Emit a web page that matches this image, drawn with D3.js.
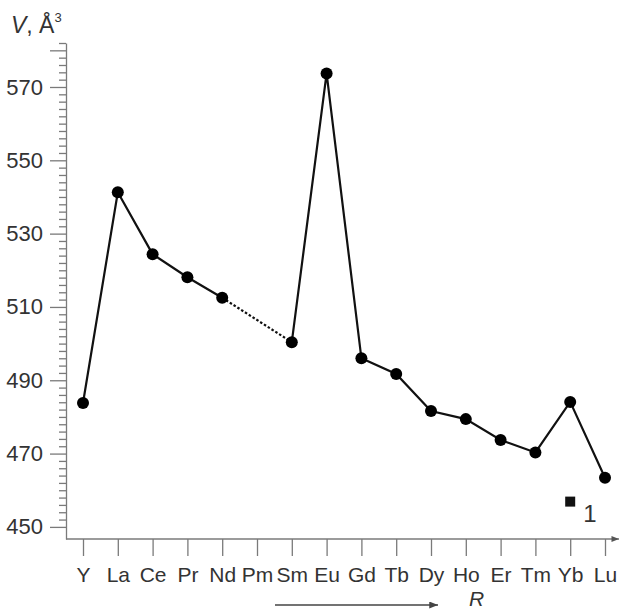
<!DOCTYPE html>
<html>
<head>
<meta charset="utf-8">
<script src="https://cdn.jsdelivr.net/npm/d3@7"></script>
<style>
    body { margin: 0; background: #fff; }
    svg { display: block; font-family: "Liberation Sans", Arial, sans-serif; }
</style>
</head>
<body>
<div id="chart"></div>
<script>
// Rare earth elements along the x axis, cell volume V (Å^3) for each
var elements = ["Y", "La", "Ce", "Pr", "Nd", "Pm", "Sm", "Eu", "Gd", "Tb", "Dy", "Ho", "Er", "Tm", "Yb", "Lu"];
var volumes = [483.8, 541.3, 524.4, 518.1, 512.5, null, 500.4, 573.7, 496.0, 491.7, 481.6, 479.4, 473.7, 470.3, 484.1, 463.4];

// Separate compound "1" (square marker)
var compoundElements = ["Yb"];
var compoundVolumes = [456.9];

// Y tick labels
var majorTicks = [450, 470, 490, 510, 530, 550, 570, 580];
var labelledTicks = [450, 470, 490, 510, 530, 550, 570];

var width = 620, height = 612;

var svg = d3.select("#chart").append("svg")
    .attr("width", width)
    .attr("height", height);

var axisColor = "#7a7a7a";
var textColor = "#333";

// Scales
var x = d3.scalePoint()
    .domain(elements)
    .range([83, 605]);

var y = d3.scaleLinear()
    .domain([446.7, 582])
    .range([539, 43]);

var axisX = 66;

// Y axis: minor ticks every 2 units
var minorTicks = d3.range(452, 583, 2).filter(function(v) { return majorTicks.indexOf(v) < 0; });

var yMinor = d3.axisLeft(y)
    .tickValues(minorTicks)
    .tickSize(7)
    .tickSizeOuter(0)
    .tickFormat("");

var yMajor = d3.axisLeft(y)
    .tickValues(majorTicks)
    .tickSize(16)
    .tickSizeOuter(0)
    .tickPadding(7)
    .tickFormat(function(d) { return labelledTicks.indexOf(d) >= 0 ? d : ""; });

var gyMinor = svg.append("g")
    .attr("transform", "translate(" + axisX + ",0)")
    .call(yMinor);

var gyMajor = svg.append("g")
    .attr("transform", "translate(" + axisX + ",0)")
    .call(yMajor);

[gyMinor, gyMajor].forEach(function(g) {
    g.selectAll("path, line").attr("stroke", axisColor).attr("stroke-width", 1.3);
    g.selectAll("text")
        .attr("fill", textColor)
        .style("font-size", "22px")
        .style("font-family", "Liberation Sans, Arial, sans-serif");
});
gyMinor.select(".domain").remove();

// X axis
var xAxis = d3.axisBottom(x)
    .tickSize(17)
    .tickSizeOuter(0)
    .tickPadding(11);

var gx = svg.append("g")
    .attr("transform", "translate(0," + y.range()[0] + ")")
    .call(xAxis);

gx.select(".domain").remove();
gx.selectAll("line").attr("stroke", axisColor).attr("stroke-width", 1.3);
gx.selectAll("text")
    .attr("fill", textColor)
    .style("font-size", "21px")
    .style("font-family", "Liberation Sans, Arial, sans-serif");

// Arrow markers
var defs = svg.append("defs");
defs.append("marker")
    .attr("id", "arrowGrey")
    .attr("viewBox", "0 0 10 8")
    .attr("refX", 10).attr("refY", 4)
    .attr("markerWidth", 8).attr("markerHeight", 6)
    .attr("markerUnits", "userSpaceOnUse")
    .attr("orient", "auto")
    .append("path").attr("d", "M0,0 L10,4 L0,8 Z").attr("fill", "#555");

defs.append("marker")
    .attr("id", "arrowDark")
    .attr("viewBox", "0 0 10 8")
    .attr("refX", 10).attr("refY", 4)
    .attr("markerWidth", 9).attr("markerHeight", 7)
    .attr("markerUnits", "userSpaceOnUse")
    .attr("orient", "auto")
    .append("path").attr("d", "M0,0 L10,4 L0,8 Z").attr("fill", "#444");

// X axis line with arrow
svg.append("line")
    .attr("x1", axisX).attr("x2", 619)
    .attr("y1", y.range()[0]).attr("y2", y.range()[0])
    .attr("stroke", axisColor)
    .attr("stroke-width", 1.3)
    .attr("marker-end", "url(#arrowGrey)");

// Series points
var points = elements.map(function(e, i) { return {el: e, v: volumes[i]}; });

// Solid line for consecutive measured values
var line = d3.line()
    .defined(function(d) { return d.v !== null; })
    .x(function(d) { return x(d.el); })
    .y(function(d) { return y(d.v); });

svg.append("path")
    .datum(points)
    .attr("d", line)
    .attr("fill", "none")
    .attr("stroke", "#111")
    .attr("stroke-width", 2.2);

// Dotted line across missing values
var known = points.filter(function(d) { return d.v !== null; });
var gaps = [];
for (var i = 1; i < known.length; i++) {
    var a = elements.indexOf(known[i - 1].el), b = elements.indexOf(known[i].el);
    if (b - a > 1) gaps.push([known[i - 1], known[i]]);
}
svg.selectAll("path.gap")
    .data(gaps)
    .enter()
    .append("path")
    .classed("gap", true)
    .attr("d", d3.line().x(function(d) { return x(d.el); }).y(function(d) { return y(d.v); }))
    .attr("fill", "none")
    .attr("stroke", "#111")
    .attr("stroke-width", 2.2)
    .attr("stroke-dasharray", "2.5,2");

svg.selectAll("circle.pt")
    .data(known)
    .enter()
    .append("circle")
    .classed("pt", true)
    .attr("cx", function(d) { return x(d.el); })
    .attr("cy", function(d) { return y(d.v); })
    .attr("r", 6)
    .attr("fill", "#000");

// Compound 1 (square)
var sq = 10;
svg.selectAll("rect.c1")
    .data(compoundElements.map(function(e, i) { return {el: e, v: compoundVolumes[i]}; }))
    .enter()
    .append("rect")
    .classed("c1", true)
    .attr("x", function(d) { return x(d.el) - sq / 2; })
    .attr("y", function(d) { return y(d.v) - sq / 2; })
    .attr("width", sq)
    .attr("height", sq)
    .attr("fill", "#111");

svg.append("text")
    .attr("x", x("Yb") + 13)
    .attr("y", y(compoundVolumes[0]) + 20)
    .attr("fill", textColor)
    .style("font-size", "24px")
    .text("1");

// Y axis title: V, Å^3
var yTitle = svg.append("text")
    .attr("x", 11)
    .attr("y", 33)
    .attr("fill", textColor)
    .style("font-size", "23px");
yTitle.append("tspan").style("font-style", "italic").text("V");
yTitle.append("tspan").text(", Å");
yTitle.append("tspan").attr("dy", -11).style("font-size", "13px").text("3");

// Direction arrow and R
svg.append("line")
    .attr("x1", 275).attr("x2", 438)
    .attr("y1", 605).attr("y2", 605)
    .attr("stroke", "#444")
    .attr("stroke-width", 1.3)
    .attr("marker-end", "url(#arrowDark)");

svg.append("text")
    .attr("x", 469)
    .attr("y", 606)
    .attr("fill", textColor)
    .style("font-size", "21px")
    .style("font-style", "italic")
    .text("R");
</script>
</body>
</html>
